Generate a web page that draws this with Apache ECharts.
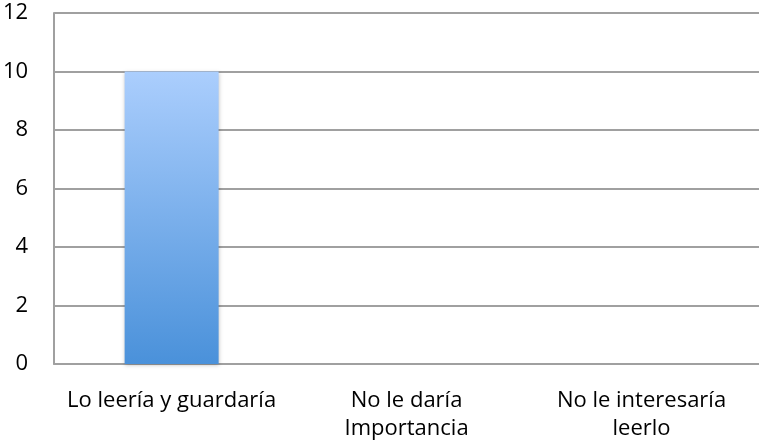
<!DOCTYPE html>
<html><head><meta charset="utf-8">
<script src="https://cdn.jsdelivr.net/npm/echarts@6/dist/echarts.min.js"></script>
<style>html,body{margin:0;padding:0;background:#fff}#c{width:759px;height:443px}</style>
</head><body><div id="c"></div>
<script>
const categories = ['Lo leería y guardaría', 'No le daría\nImportancia', 'No le interesaría\nleerlo'];
const values = [10, 0, 0];
const yTicks = [0, 2, 4, 6, 8, 10, 12];

const chart = echarts.init(document.getElementById('c'), null, {renderer: 'canvas'});
const font = '"Open Sans", "Liberation Sans", sans-serif';
chart.setOption({
  animation: false,
  grid: {left: 53, right: 0, top: 13, bottom: 77, containLabel: false},
  xAxis: {
    type: 'category', data: categories,
    axisLine: {show: true, lineStyle: {color: '#a0a0a0', width: 2}},
    axisTick: {show: false},
    axisLabel: {color: '#000', fontFamily: font, fontSize: 22, margin: 23, lineHeight: 28, interval: 0}
  },
  yAxis: {
    type: 'value', min: yTicks[0], max: yTicks[yTicks.length - 1], interval: 2,
    axisLine: {show: true, lineStyle: {color: '#a0a0a0', width: 2}},
    axisTick: {show: false},
    splitLine: {show: true, lineStyle: {color: '#a0a0a0', width: 2}},
    axisLabel: {color: '#000', fontFamily: font, fontSize: 22, margin: 26}
  },
  series: [{
    type: 'bar', data: values, barWidth: '40%',
    itemStyle: {
      color: new echarts.graphic.LinearGradient(0, 0, 0, 1, [
        {offset: 0, color: '#abcefd'},
        {offset: 1, color: '#4a91da'}
      ]),
      shadowBlur: 4, shadowColor: 'rgba(0,0,0,0.25)', shadowOffsetX: 0, shadowOffsetY: 1
    }
  }]
});
</script></body></html>
